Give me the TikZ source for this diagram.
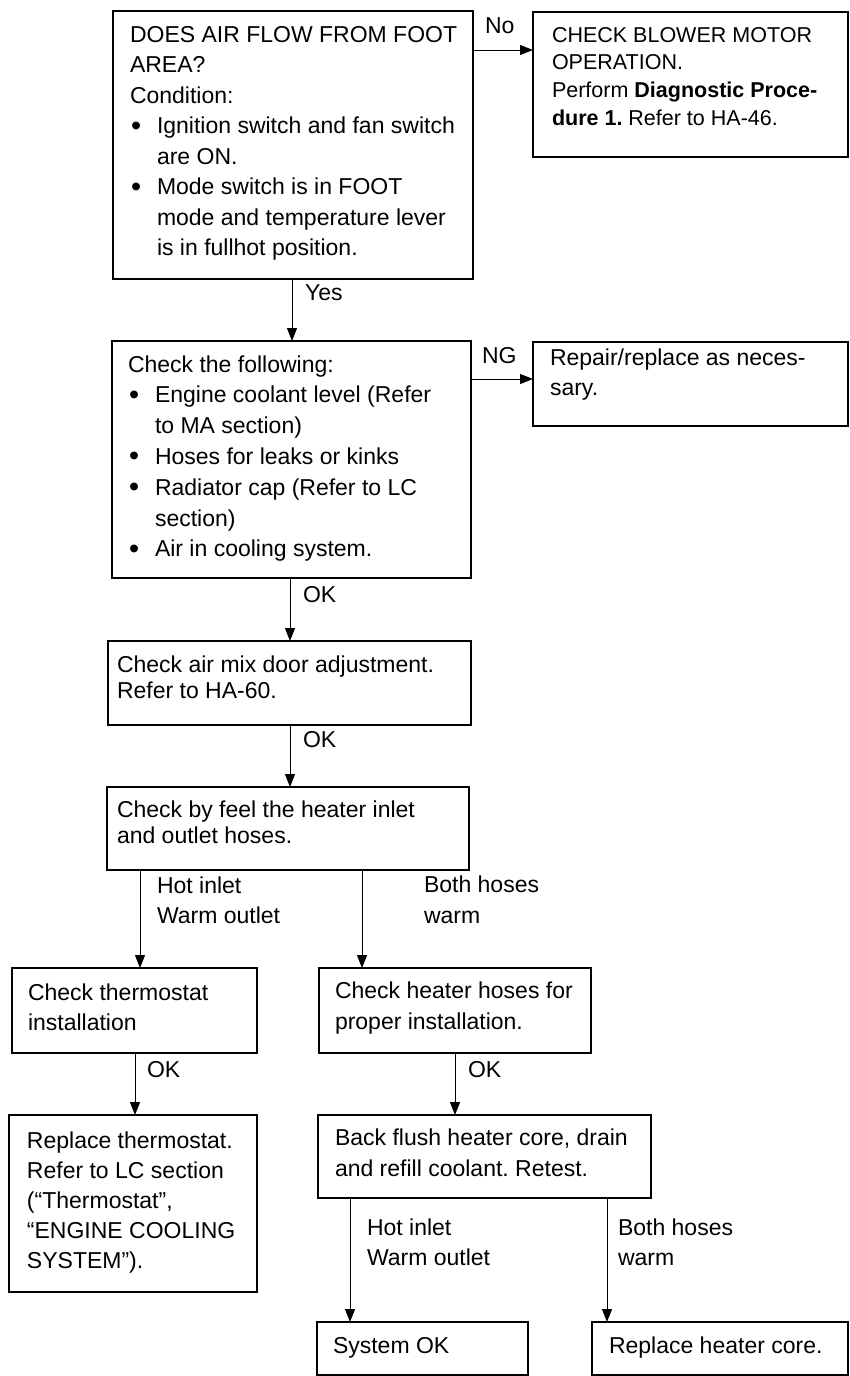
\documentclass[tikz,border=0pt]{standalone}
\usepackage{fontspec}
\setmainfont{Liberation Sans}
\usetikzlibrary{arrows.meta,calc}
\frenchspacing
\newcommand\bul{\makebox[27pt][l]{\hspace{1pt}\raisebox{-1.5pt}{\scalebox{1.25}{\textbullet}}}}
\newcommand\ind{\hspace*{27pt}}
\newcommand\btext[6]{\node[txt, font=\fontsize{#4pt}{#5pt}\selectfont] (#1) at (#2,{-#3+0.7*#5}) {\strut#6};}
\tikzset{
  box/.style={draw, line width=1.3pt, inner sep=0pt, outer sep=0pt, anchor=north west},
  txt/.style={inner sep=0pt, outer sep=0pt, anchor=north west, align=left},
  lbl/.style={inner sep=0pt, outer sep=0pt, anchor=base west, font=\fontsize{23pt}{30pt}\selectfont},
  arr/.style={line width=1pt, -{Triangle[length=13pt,width=10pt]}}
}
\begin{document}
\begin{tikzpicture}[x=1pt,y=1pt]
\useasboundingbox (0,0) rectangle (849,-1376);
% boxes
\node[box, minimum width=360, minimum height=268] (b1) at (113,-11) {};
\node[box, minimum width=315, minimum height=145] (b2) at (533,-12) {};
\node[box, minimum width=359, minimum height=237] (b3) at (112,-341) {};
\node[box, minimum width=315, minimum height=84] (b4) at (533,-342) {};
\node[box, minimum width=363, minimum height=84] (b5) at (108,-641) {};
\node[box, minimum width=362, minimum height=83] (b6) at (107,-787) {};
\node[box, minimum width=245, minimum height=85] (b7) at (12,-968) {};
\node[box, minimum width=272, minimum height=85] (b8) at (319,-968) {};
\node[box, minimum width=248, minimum height=177] (b9) at (9,-1115) {};
\node[box, minimum width=333, minimum height=83] (b10) at (318,-1115) {};
\node[box, minimum width=211, minimum height=53] (b11) at (317,-1322) {};
\node[box, minimum width=256, minimum height=53] (b12) at (592,-1322) {};
% box texts
\btext{t1}{130}{42}{23}{30.5}{DOES AIR FLOW FROM FOOT\\AREA?\\Condition:\\\bul Ignition switch and fan switch\\\ind are ON.\\\bul Mode switch is in FOOT\\\ind mode and temperature lever\\\ind is in fullhot position.}
\btext{t2}{552}{42}{21.5}{27.7}{CHECK BLOWER MOTOR\\OPERATION.\\Perform \textbf{Diagnostic Proce-}\\\textbf{dure 1.} Refer to HA-46.}
\btext{t3}{128}{372}{23}{30.8}{Check the following:\\\bul Engine coolant level (Refer\\\ind to MA section)\\\bul Hoses for leaks or kinks\\\bul Radiator cap (Refer to LC\\\ind section)\\\bul Air in cooling system.}
\btext{t4}{550}{365}{23}{30}{Repair/replace as neces-\\sary.}
\btext{t5}{117}{672}{23}{26}{Check air mix door adjustment.\\Refer to HA-60.}
\btext{t6}{117}{817}{23}{26}{Check by feel the heater inlet\\and outlet hoses.}
\btext{t7}{28}{1000}{23}{30}{Check thermostat\\installation}
\btext{t8}{335}{998}{23}{31}{Check heater hoses for\\proper installation.}
\btext{t9}{27}{1148}{23}{30}{Replace thermostat.\\Refer to LC section\\(“Thermostat”,\\“ENGINE COOLING\\SYSTEM”).}
\btext{t10}{335}{1145}{23}{31}{Back flush heater core, drain\\and refill coolant. Retest.}
\btext{t11}{333}{1353}{23}{30}{System OK}
\btext{t12}{609}{1353}{23}{30}{Replace heater core.}
% connectors
\draw[arr] ([yshift=-39]b1.north east) -- ([yshift=-39]b1.north east -| b2.west);
\draw[arr] ([xshift=179]b1.south west) -- ([xshift=179]b1.south west |- b3.north);
\draw[arr] ([yshift=-38]b3.north east) -- ([yshift=-38]b3.north east -| b4.west);
\draw[arr] ([xshift=178]b3.south west) -- ([xshift=178]b3.south west |- b5.north);
\draw[arr] ([xshift=182]b5.south west) -- ([xshift=182]b5.south west |- b6.north);
\draw[arr] ([xshift=33]b6.south west) -- ([xshift=33]b6.south west |- b7.north);
\draw[arr] ([xshift=255]b6.south west) -- ([xshift=255]b6.south west |- b8.north);
\draw[arr] ([xshift=123]b7.south west) -- ([xshift=123]b7.south west |- b9.north);
\draw[arr] ([xshift=136]b8.south west) -- ([xshift=136]b8.south west |- b10.north);
\draw[arr] ([xshift=32]b10.south west) -- ([xshift=32]b10.south west |- b11.north);
\draw[arr] ([xshift=289]b10.south west) -- ([xshift=289]b10.south west |- b12.north);
% connector labels
\node[lbl] (lno) at (485,-33) {No};
\node[lbl] (lyes) at (305,-300) {Yes};
\node[lbl] (lng) at (482,-363) {NG};
\node[lbl] (lok1) at (303,-602) {OK};
\node[lbl] (lok2) at (303,-747) {OK};
\btext{lhot1}{157}{893}{23}{30}{Hot inlet\\Warm outlet}
\btext{lboth1}{424}{892}{23}{31}{Both hoses\\warm}
\node[lbl] (lok3) at (147,-1077) {OK};
\node[lbl] (lok4) at (468,-1077) {OK};
\btext{lhot2}{367}{1235}{23}{30}{Hot inlet\\Warm outlet}
\btext{lboth2}{618}{1235}{23}{30}{Both hoses\\warm}
\end{tikzpicture}
\end{document}
